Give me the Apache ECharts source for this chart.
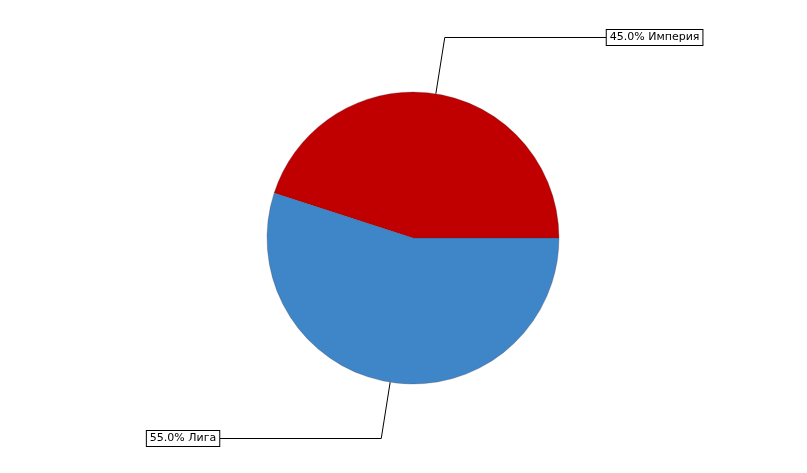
<!DOCTYPE html>
<html><head><meta charset="utf-8">
<script src="https://cdn.jsdelivr.net/npm/echarts@6/dist/echarts.min.js"></script>
<style>html,body{margin:0;padding:0;background:#fff}#c{width:807px;height:473px}</style>
</head><body><div id="c"></div>
<script>
const categories = ['Империя', 'Лига'];
const values = [45.0, 55.0];
const colors = ['#c00000', '#3f86c8'];
const chart = echarts.init(document.getElementById('c'));
chart.setOption({
  animation: false,
  series: [{
    type: 'pie',
    center: [413, 238],
    radius: [0, 146],
    startAngle: 0,
    clockwise: false,
    avoidLabelOverlap: false,
    data: categories.map((n, i) => ({name: n, value: values[i], itemStyle: {color: colors[i]}})),
    itemStyle: {borderColor: 'rgba(60,40,60,0.5)', borderWidth: 0.5},
    label: {
      show: true,
      position: 'outside',
      formatter: p => p.value.toFixed(1) + '% ' + p.name,
      fontFamily: 'DejaVu Sans',
      fontSize: 11,
      color: '#000',
      backgroundColor: '#fff',
      borderColor: '#000',
      borderWidth: 1,
      padding: [2, 3, 2, 3],
      distanceToLabelLine: 0
    },
    labelLine: {
      show: true,
      length: 57,
      length2: 162,
      smooth: false,
      lineStyle: {color: '#000', width: 1}
    },
    emphasis: {disabled: true}
  }]
});
</script></body></html>
